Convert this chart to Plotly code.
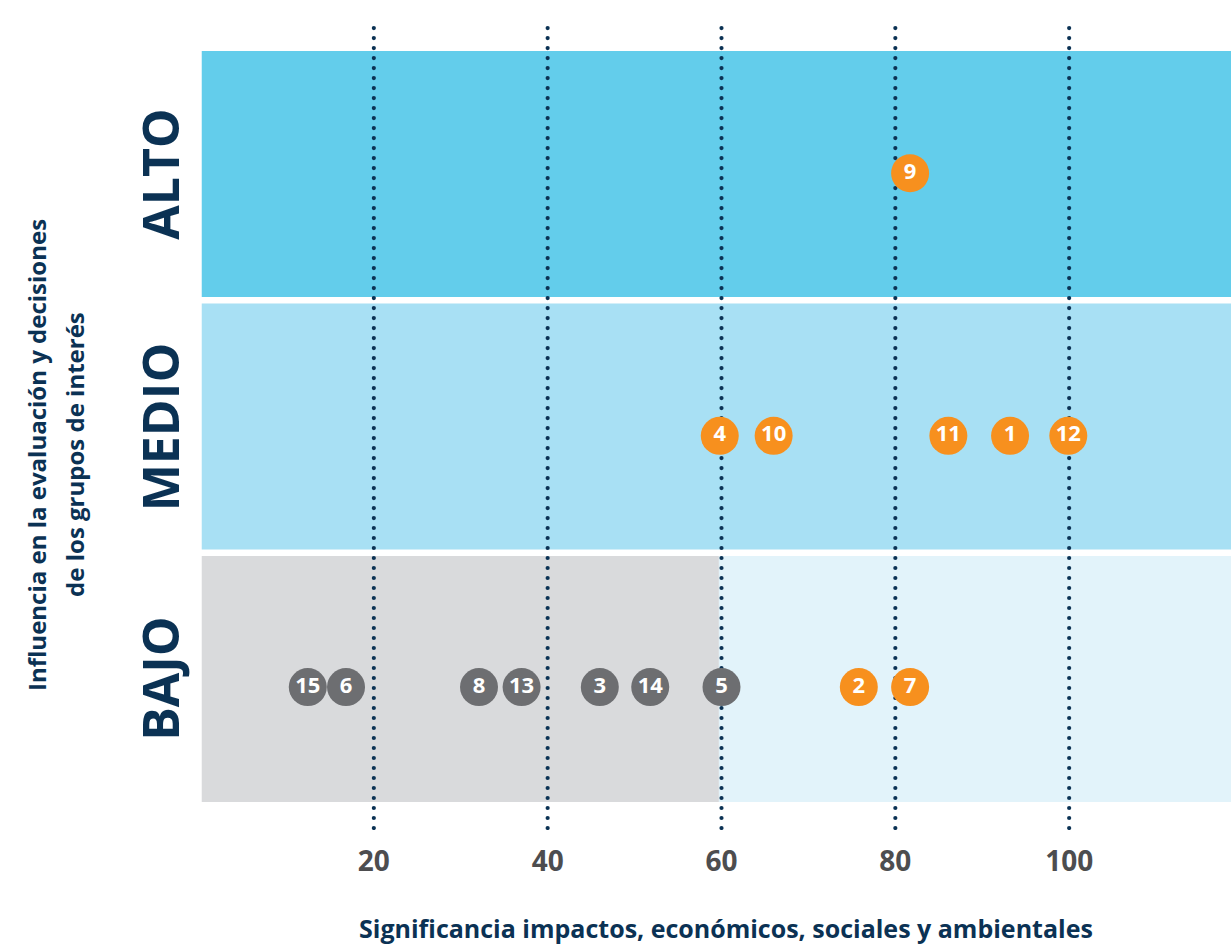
import numpy as np
import plotly.graph_objects as go

# Materiality matrix data
temas = ["1", "2", "3", "4", "5", "6", "7", "8", "9", "10", "11", "12", "13", "14", "15"]
significancia = [93.2, 75.8, 46.0, 59.8, 60.0, 16.8, 81.7, 32.1, 81.7, 66.0, 86.1, 99.9, 37.0, 51.8, 12.4]
influencia = [1.45, 0.455, 0.455, 1.45, 0.455, 0.455, 0.455, 0.455, 2.49, 1.45, 1.45, 1.45, 0.455, 0.455, 0.455]
material = [True, True, False, True, False, False, True, False, True, True, True, True, False, False, False]

niveles = ["BAJO", "MEDIO", "ALTO"]
ticks_x = [20, 40, 60, 80, 100]

NAVY = "#0b3254"
ORANGE = "#f7901e"
GREY_PT = "#6d6e71"

fig = go.Figure()

# background bands for each influence level
band_h = 0.974
band_colors = {"ALTO": "#63cdeb", "MEDIO": "#a8e0f4"}
for i, nivel in enumerate(niveles):
    if nivel == "BAJO":
        fig.add_shape(type="rect", x0=0.2, x1=59.7, y0=i, y1=i + band_h,
                      fillcolor="#d9dadc", line_width=0, layer="below")
        fig.add_shape(type="rect", x0=59.7, x1=118.62, y0=i, y1=i + band_h,
                      fillcolor="#e2f3fa", line_width=0, layer="below")
    else:
        fig.add_shape(type="rect", x0=0.2, x1=118.62, y0=i, y1=i + band_h,
                      fillcolor=band_colors[nivel], line_width=0, layer="below")

# dotted vertical reference lines
dot_y = np.arange(-0.103, 3.10, 0.0396)
for xv in ticks_x:
    fig.add_trace(go.Scatter(
        x=[xv] * len(dot_y), y=dot_y, mode="markers",
        marker=dict(size=4.2, color=NAVY), hoverinfo="skip", showlegend=False))

# topic bubbles
for flag, color in [(False, GREY_PT), (True, ORANGE)]:
    idx = [k for k, m in enumerate(material) if m == flag]
    fig.add_trace(go.Scatter(
        x=[significancia[k] for k in idx],
        y=[influencia[k] for k in idx],
        text=[temas[k] for k in idx],
        mode="markers+text",
        textposition="middle center",
        textfont=dict(family="Open Sans", size=22, color="white", weight="bold"),
        marker=dict(size=38, color=color, line_width=0),
        showlegend=False))

# level labels
for i, nivel in enumerate(niveles):
    fig.add_annotation(x=-0.039, xref="paper", y=i + band_h / 2, yref="y",
                       xanchor="center", yanchor="middle",
                       text=nivel, textangle=-90, showarrow=False,
                       font=dict(family="Open Sans", size=50, color=NAVY, weight="bold"))

# y-axis title, two lines
for xp, line in [(-0.158, "Influencia en la evaluación y decisiones"),
                 (-0.1212, "de los grupos de interés")]:
    fig.add_annotation(x=xp, xref="paper", y=0.462, yref="paper",
                       xanchor="center", yanchor="middle",
                       text=line, textangle=-90, showarrow=False,
                       font=dict(family="Open Sans", size=24, color=NAVY, weight="bold"))

# x-axis title
fig.add_annotation(x=0.510, xref="paper", y=-0.1207, yref="paper",
                   xanchor="center", yanchor="middle",
                   text="Significancia impactos, económicos, sociales y ambientales",
                   showarrow=False,
                   font=dict(family="Open Sans", size=25, color=NAVY, weight="bold"))

fig.update_xaxes(range=[0, 118.62], tickvals=ticks_x, ticks="", showgrid=False,
                 zeroline=False, showline=False, ticklabelstandoff=12,
                 tickfont=dict(family="Open Sans", size=28, color="#4d4d4f", weight="bold"))
fig.update_yaxes(range=[-0.111, 3.105], showticklabels=False, showgrid=False,
                 zeroline=False, showline=False)

fig.update_layout(width=1231, height=944,
                  margin=dict(l=200, r=0, t=18, b=114),
                  plot_bgcolor="white", paper_bgcolor="white")

fig.write_html("out.html")
